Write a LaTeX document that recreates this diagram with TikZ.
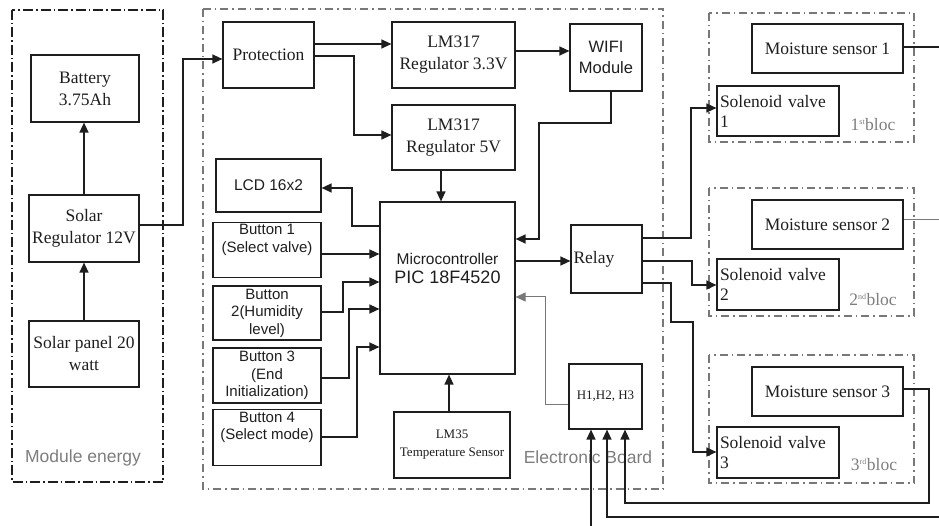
\documentclass[tikz,border=0pt]{standalone}
\usepackage{fontspec}
\setmainfont{Liberation Serif}
\setsansfont{Liberation Sans}
\usetikzlibrary{arrows.meta}
\definecolor{lbl}{RGB}{125,125,125}
\definecolor{frm}{RGB}{120,120,120}
\definecolor{ink}{RGB}{30,30,30}
\begin{document}
\begin{tikzpicture}[x=1pt,y=-1pt,
  box/.style={draw=ink,line width=1.2pt,inner sep=2pt,align=center,text=ink},
  rm/.style={font=\fontsize{17.5}{22}\selectfont},
  rmsmall/.style={font=\fontsize{13}{18}\selectfont},
  sf/.style={font=\sffamily\fontsize{15}{17.5}\selectfont},
  conn/.style={draw=ink,line width=1.3pt,-{Triangle[length=10pt,width=9pt]}},
  wire/.style={draw=ink,line width=1.3pt},
  thinconn/.style={draw=frm,line width=1pt,-{Triangle[length=10pt,width=9pt]}},
  thinwire/.style={draw=frm,line width=1pt},
  bigframe/.style={draw=ink,line width=2pt,dash pattern=on 10pt off 3pt on 1.5pt off 3pt},
  frame/.style={draw=frm,line width=1.3pt,dash pattern=on 8pt off 4pt on 1.5pt off 4pt},
  framelbl/.style={text=lbl,font=\sffamily\fontsize{17.5}{20}\selectfont},
  bloclbl/.style={text=lbl,font=\fontsize{17.5}{18}\selectfont}
]
\useasboundingbox (0,0) rectangle (939,526);

% frames
\draw[bigframe] (12,10) rectangle (163,482);
\draw[frame] (203,9) rectangle (663,489);
\draw[frame] (709,13) rectangle (914,142);
\draw[frame] (709,188) rectangle (914,316);
\draw[frame] (709,355) rectangle (914,483);

\node[framelbl] (modlbl) at (83,458) {Module energy};
\node[framelbl] (eblbl) at (588,457) {Electronic Board};
\node[bloclbl] (b1lbl) at (873,125) {1\textsuperscript{\fontsize{8}{8}\selectfont st}bloc};
\node[bloclbl] (b2lbl) at (873,300) {2\textsuperscript{\fontsize{8}{8}\selectfont nd}bloc};
\node[bloclbl] (b3lbl) at (874,465) {3\textsuperscript{\fontsize{8}{8}\selectfont rd}bloc};

% energy module
\node[box,rm,minimum width=108pt,minimum height=67pt] (bat) at (85,88.5) {Battery\\3.75Ah};
\node[box,rm,minimum width=110pt,minimum height=67pt] (sreg) at (84,228.5) {Solar\\Regulator 12V};
\node[box,rm,minimum width=110pt,minimum height=66pt] (spanel) at (84,354) {Solar panel 20\\watt};

% electronic board
\node[box,rm,minimum width=91pt,minimum height=66pt] (prot) at (268.5,55) {Protection};
\node[box,rm,minimum width=123pt,minimum height=66pt] (lm33) at (453.5,55) {LM317\\Regulator 3.3V};
\node[box,sf,font=\sffamily\fontsize{16.5}{21}\selectfont,minimum width=72pt,minimum height=67pt] (wifi) at (606,57.5) {WIFI\\Module};
\node[box,rm,minimum width=123pt,minimum height=65pt] (lm5) at (453.5,137.5) {LM317\\Regulator 5V};
\node[box,sf,font=\sffamily\fontsize{15.5}{18}\selectfont,minimum width=105pt,minimum height=53pt] (lcd) at (268.5,185.5) {LCD 16x2};
\node[box,sf,minimum width=108pt,minimum height=54pt] (b1) at (267,250) {Button 1\\(Select valve)\\[6pt]};
\node[box,sf,minimum width=108pt,minimum height=54pt] (b2) at (267,313) {Button\\2(Humidity\\level)};
\node[box,sf,minimum width=108pt,minimum height=55pt] (b3) at (267,375.5) {Button 3\\(End\\Initialization)};
\node[box,sf,minimum width=108pt,minimum height=55pt] (b4) at (267,437.5) {Button 4\\(Select mode)\\[6pt]};
\node[box,minimum width=135pt,minimum height=172pt] (micro) at (447.5,288) {};
\node[sf,text=ink,align=center,font=\sffamily\fontsize{15.5}{19}\selectfont] (microtxt) at (447.5,268) {Microcontroller\\{\fontsize{18}{19}\selectfont PIC 18F4520}};
\node[box,rmsmall,minimum width=116pt,minimum height=66pt] (lm35) at (452,445) {LM35\\Temperature Sensor};
\node[box,rm,minimum width=71pt,minimum height=68pt,text width=66pt,align=left,inner sep=1pt] (relay) at (606.5,259) {Relay};
\node[box,rmsmall,minimum width=73pt,minimum height=65pt] (hbox) at (605.5,396.5) {H1,H2, H3};

% blocs
\node[box,rm,minimum width=151pt,minimum height=49pt] (ms1) at (827.5,48.5) {Moisture sensor 1};
\node[box,rm,minimum width=122pt,minimum height=50pt,text width=116pt,align=left,font=\fontsize{17.5}{20}\selectfont] (sv1) at (778,111) {Solenoid valve\\1};
\node[box,rm,minimum width=151pt,minimum height=49pt] (ms2) at (827.5,224.5) {Moisture sensor 2};
\node[box,rm,minimum width=122pt,minimum height=51pt,text width=116pt,align=left,font=\fontsize{17.5}{20}\selectfont] (sv2) at (778,284.5) {Solenoid valve\\2};
\node[box,rm,minimum width=151pt,minimum height=49pt] (ms3) at (827.5,391.5) {Moisture sensor 3};
\node[box,rm,minimum width=122pt,minimum height=51pt,text width=116pt,align=left,font=\fontsize{17.5}{20}\selectfont] (sv3) at (778,452.5) {Solenoid valve\\3};

% free ends
\coordinate (e1) at (939,47);
\coordinate (e2) at (939,220);
\coordinate (e3) at (939,517);
\coordinate (e4) at (591,526);

% connectors: energy
\draw[conn] (spanel.north) -- (spanel.north |- sreg.south);
\draw[conn] (sreg.north) -- (sreg.north |- bat.south);
\draw[conn] (sreg.east |- 0,225) -- (183,225) |- (prot.west |- 0,59);

% connectors: board
\draw[conn] (prot.east |- 0,44) -- (lm33.west |- 0,44);
\draw[conn] (prot.east |- 0,56) -- (354,56) |- (lm5.west |- 0,135);
\draw[conn] (lm33.east |- 0,51) -- (wifi.west |- 0,51);
\draw[conn] (wifi.south -| 611,0) -- (611,123) -- (539,123) |- (micro.east |- 0,239);
\draw[conn] (lm5.south -| 441,0) -- (micro.north -| 441,0);
\draw[conn] (micro.west |- 0,226) -- (352,226) |- (lcd.east |- 0,188);
\draw[conn] (b1.east |- 0,254) -- (micro.west |- 0,254);
\draw[conn] (b2.east |- 0,312) -- (343,312) |- (micro.west |- 0,282);
\draw[conn] (b3.east |- 0,378) -- (349,378) |- (micro.west |- 0,309);
\draw[conn] (b4.east |- 0,437) -- (357,437) |- (micro.west |- 0,347);
\draw[conn] (lm35.north -| 449,0) -- (micro.south -| 449,0);
\draw[conn] (micro.east |- 0,261) -- (relay.west |- 0,261);
\draw[thinconn] (hbox.west |- 0,404) -- (545,404) |- (micro.east |- 0,297);

% relay to valves
\draw[conn] (relay.east |- 0,238) -- (691,238) |- (sv1.west |- 0,108);
\draw[conn] (relay.east |- 0,261) -- (692,261) |- (sv2.west |- 0,285);
\draw[conn] (relay.east |- 0,283) -- (671,283) -- (671,322) -- (693,322) |- (sv3.west |- 0,452);

% sensors to H box
\draw[wire] (ms1.east |- 0,47) -- (e1);
\draw[thinwire] (ms2.east |- 0,220) -- (e2);
\draw[conn] (ms3.east |- 0,389) -- (929,389) -- (929,503) -| (hbox.south -| 625,0);
\draw[conn] (e3) -- (607,517) -- (hbox.south -| 607,0);
\draw[conn] (e4) -- (hbox.south -| 591,0);
\end{tikzpicture}
\end{document}
